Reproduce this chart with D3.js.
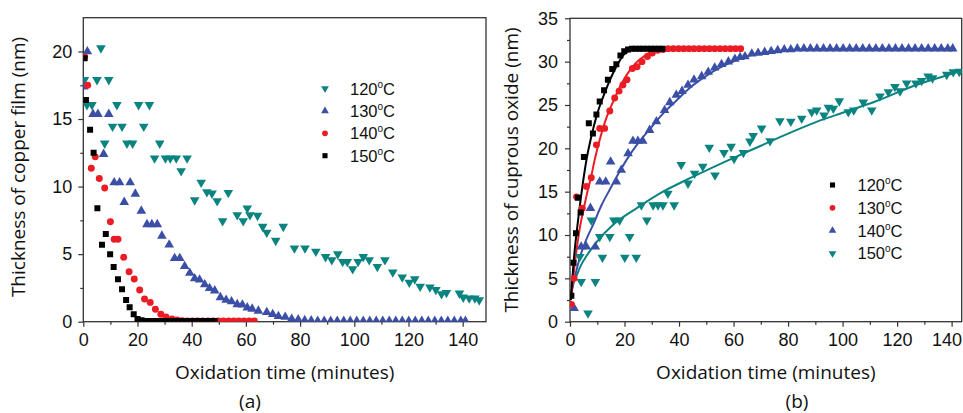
<!DOCTYPE html>
<html><head><meta charset="utf-8">
<script src="https://cdn.jsdelivr.net/npm/d3@7/dist/d3.min.js"></script>
<style>body{margin:0;background:#fff}svg{display:block}</style>
</head><body><svg id="c" width="963" height="413"></svg>
<script>
// ---------- tick labels ----------
const xTicks = [0, 20, 40, 60, 80, 100, 120, 140];
const xMinor = [10, 30, 50, 70, 90, 110, 130];
const yTicksA = [0, 5, 10, 15, 20];
const yMinorA = [2.5, 7.5, 12.5, 17.5];
const yTicksB = [0, 5, 10, 15, 20, 25, 30, 35];
const yMinorB = [2.5, 7.5, 12.5, 17.5, 22.5, 27.5, 32.5];
const legendA = ["120", "130", "140", "150"];
const legendB = ["120", "130", "140", "150"];

// ---------- panel (a): thickness of copper film ----------
const copper120 = [[0.4,17.9],[1.35,16.05],[3.2,16.05],[5.05,17.9],[6.5,20.25],[7.9,13.2],[9.4,17.9],[10.8,14.45],[12.4,16.05],[14.3,14.45],[16.1,13.2],[18.2,13.2],[20.4,16.05],[22.3,14.45],[24.4,16.05],[26.3,12.1],[28.2,13.2],[30.3,12.1],[32.1,12.1],[34.3,12.1],[36.1,11.15],[38.3,12.1],[41.1,9.0],[43.5,10.3],[45.6,9.6],[47.5,9.5],[49.4,8.94],[51.4,7.46],[53.5,9.55],[56.8,7.9],[59,7.46],[60.5,8.4],[61.5,7.9],[64.3,7.85],[66.2,7.04],[67.7,6.6],[71,6.0],[73.8,7.04],[77.9,5.44],[81.8,5.44],[85.8,5.2],[89.4,4.8],[91.7,4.57],[93.9,5.0],[95.7,4.44],[97.4,4.44],[99.4,3.9],[101.4,4.44],[103.3,4.8],[105.5,4.57],[108.5,4.07],[111.3,4.57],[114.2,3.66],[117.7,3.29],[120.3,2.9],[122.3,3.15],[124.3,2.6],[127.9,2.55],[130.1,2.37],[132.2,2.05],[134,2.15],[138.8,2.1],[140.2,1.8],[142.4,1.74],[144.5,1.74],[146.1,1.6]];
const copper130 = [[0.1,17.4],[1.5,20.0],[3.6,15.36],[5.4,15.36],[7.5,12.4],[9.4,15.36],[11.4,10.3],[13.4,10.3],[15.1,8.85],[17.3,10.3],[19.2,9.46],[21.4,8.2],[23.5,7.2],[25.3,7.2],[27.3,7.2],[29,6.35],[31.7,5.7],[33.7,4.7],[35.6,4.7],[37.4,4.1],[39.3,3.6],[41.1,3.2],[42.9,3.1],[44.8,2.75],[46.6,2.47],[48.5,2.3],[50.6,1.8],[52.7,1.6],[54.7,1.5],[56.8,1.28],[58.7,1.25],[60.5,1.04],[62.3,0.95],[64.6,0.8],[67.7,0.7],[69.9,0.55],[72,0.4],[74.5,0.35],[76.9,0.2],[79.3,0.15],[81.7,0.1],[84.1,0.08],[86.5,0.05],[88.9,0.05],[91.3,0.05],[93.7,0.05],[96.1,0.05],[98.5,0.05],[100.9,0.05],[103.3,0.05],[105.7,0.05],[108.1,0.05],[110.5,0.05],[112.9,0.05],[115.3,0.05],[117.7,0.05],[120.1,0.05],[122.5,0.05],[124.9,0.05],[127.3,0.05],[129.7,0.05],[132.1,0.05],[134.5,0.05],[136.9,0.05],[139.3,0.05],[141,0.05]];
const copper140 = [[0.5,19.6],[1.6,17.5],[2.95,11.35],[4.4,12.2],[5.9,10.6],[7.9,9.9],[10,7.4],[11.4,6.1],[12.8,6.1],[14.9,4.77],[16.9,3.7],[18.8,3.16],[20.8,2.35],[22.6,1.68],[24.7,1.43],[26.6,0.92],[28.6,0.55],[30.5,0.35],[32.7,0.2],[34.6,0.12],[36.5,0.08],[38.4,0.06],[40.3,0.05],[42.2,0.05],[44.1,0.05],[46,0.05],[47.9,0.05],[49.8,0.05],[51.7,0.05],[53.6,0.05],[55.5,0.05],[57.4,0.05],[59.3,0.05],[61.2,0.05],[63.1,0.05]];
const copper150 = [[0.5,19.5],[1,16.4],[2.5,14.2],[3.8,12.5],[5.2,8.4],[6.9,5.7],[8.3,6.5],[9.9,5.0],[11.2,4.05],[12.8,3.15],[14.3,2.4],[15.8,1.6],[17.1,1.07],[18.6,0.55],[20,0.2],[21.5,0.1],[23,0.06],[24.5,0.05],[26,0.05],[27.5,0.05],[29,0.05],[30.5,0.05],[32,0.05],[33.5,0.05],[35,0.05],[36.5,0.05],[38,0.05],[39.5,0.05],[41,0.05],[42.5,0.05],[44,0.05],[45.5,0.05],[47,0.05],[48.5,0.05]];

// ---------- panel (b): thickness of cuprous oxide ----------
const oxide120 = [[0.5,3.0],[1.3,6.8],[2.2,10.2],[2.9,14.3],[3.9,12.6],[5.1,19.0],[6.9,22.9],[8.4,21.7],[9.7,23.9],[10.9,25.4],[12.5,26.7],[13.9,27.9],[15.5,29.15],[17,29.7],[18.5,30.7],[19.9,31.2],[21.3,31.4],[22.7,31.5],[24.1,31.5],[25.5,31.5],[26.9,31.5],[28.3,31.5],[29.7,31.5],[31.1,31.5],[32.5,31.5],[33.9,31.5]];
const oxide130 = [[0.5,2.0],[1.5,5.0],[2.4,14.4],[4.5,13.1],[6.0,15.6],[7.8,16.6],[9.7,20.4],[10.9,22.3],[12.7,22.3],[14.6,24.3],[16.4,25.8],[18,26.6],[19.4,27.3],[20.9,27.9],[22.9,29.2],[24.6,29.4],[26.4,30.0],[28.4,30.6],[30.2,31.0],[32.2,31.3],[34.1,31.4],[36,31.5],[37.9,31.5],[39.8,31.5],[41.7,31.5],[43.6,31.5],[45.5,31.5],[47.4,31.5],[49.3,31.5],[51.2,31.5],[53.1,31.5],[55,31.5],[56.9,31.5],[58.8,31.5],[60.7,31.5],[62.6,31.5]];
const oxide140 = [[1.5,1.55],[4.1,8.65],[6.0,8.65],[7.5,13.1],[9.3,8.65],[10.9,16.15],[13.1,16.15],[14.9,18.45],[17,16.15],[18.8,17.5],[21.3,19.4],[23.1,20.85],[24.9,20.85],[26.7,20.85],[29.2,22.1],[31.7,23.1],[34.7,24.4],[36.6,25.3],[39,26.15],[41.1,26.6],[43.3,27.3],[45.5,27.9],[48.3,28.3],[50.7,28.8],[53.1,29.3],[55.6,29.7],[58.1,30.0],[60.5,30.3],[62.4,30.5],[64.2,30.6],[66.7,30.9],[69,31.0],[71.4,31.1],[73.8,31.2],[76.2,31.3],[78.6,31.4],[81,31.4],[83.4,31.5],[85.8,31.5],[88.2,31.5],[90.6,31.5],[93,31.5],[95.4,31.5],[97.8,31.5],[100.2,31.5],[102.6,31.5],[105,31.5],[107.4,31.5],[109.8,31.5],[112.2,31.5],[114.6,31.5],[117,31.5],[119.4,31.5],[121.8,31.5],[124.2,31.5],[126.6,31.5],[129,31.5],[131.4,31.5],[133.8,31.5],[136.2,31.5],[138.6,31.5],[140.4,31.5]];
const oxide150 = [[3.6,7.5],[4.1,4.6],[6.6,0.97],[7.8,11.7],[9.3,4.6],[10.9,9.8],[11.9,7.4],[14.6,9.8],[16.1,11.7],[18.2,11.7],[20.1,7.4],[21.9,9.8],[24.3,7.4],[26.2,13.45],[28.2,11.7],[30.5,13.45],[32.3,13.45],[34.1,13.45],[35.9,14.8],[38.2,13.45],[40.8,18.1],[43.3,15.96],[45.7,17.1],[48.7,17.9],[51.1,20.1],[53.2,16.9],[56.5,19.5],[59.1,20.2],[60.2,18.8],[63.6,19.5],[66,20.8],[67.2,21.45],[70.3,22.3],[73.4,20.85],[77,23.15],[81,23.1],[85,23.45],[88.7,24.2],[90.5,24.4],[93.2,23.8],[94.8,24.7],[96.6,24.6],[98.8,25.45],[102.1,24.2],[104.1,24.4],[107.6,25.3],[110.7,24.4],[113.7,26.0],[116.8,26.5],[119.2,27.1],[121.1,26.6],[123.5,27.5],[126.9,27.5],[129,27.8],[131.4,28.3],[133,28.1],[138.2,28.5],[140.6,28.8],[142.8,28.85]];

// fitted curves
const fit120 = [[0.3,2.5],[1.5,7.5],[3,11.8],[4.5,15.5],[6,18.6],[8,21.6],[10,24.0],[12,25.8],[14,27.4],[16,28.8],[18,30.0],[20,30.9],[23,31.4],[27,31.5],[34,31.5]];
const fit130 = [[0.3,2.5],[1.2,5.1],[2.5,8.5],[3.7,11],[5,13],[6.1,14.6],[7.8,16.8],[9,18.6],[10.9,21.0],[13,23.2],[16.4,25.8],[19,27.5],[21.3,28.7],[24,29.8],[26.2,30.4],[29,31.0],[31.1,31.3],[35,31.5],[45,31.5],[63,31.5]];
const fit140 = [[0,2.5],[1.8,5.2],[3.7,7.5],[6,9.5],[8.5,11.2],[11.5,13.4],[14.7,15.3],[18,17.2],[20.8,18.7],[25,20.6],[29.2,22.2],[34.7,24.2],[40,25.8],[43.3,26.8],[50.7,28.5],[55,29.3],[60.5,30.1],[66,30.7],[72.7,31.1],[84.4,31.4],[100,31.5],[140,31.5]];
const fit150 = [[0,2.5],[1,4.2],[2.4,5.3],[4,6.5],[6.1,7.6],[9.8,9.2],[15.9,11.2],[24.5,13.1],[33,14.8],[45,16.7],[60,18.9],[70,20.3],[80,21.7],[90,23.0],[100,24.1],[112,25.4],[127,27.3],[136,28.2],[144,29.0]];

const C_TEAL = "#0b8480", C_BLUE = "#3c4fa6", C_RED = "#ec1c24", C_BLACK = "#000000";
const svg = d3.select("#c");
const NUM_FONT = "'Liberation Sans', Arial, sans-serif";
const TITLE_FONT = "'Open Sans', 'DejaVu Sans', sans-serif";

function sym(kind, size) {
  const t = {square: d3.symbolSquare, circle: d3.symbolCircle, up: d3.symbolTriangle, down: d3.symbolTriangle}[kind];
  return d3.symbol().type(t).size(size)();
}

function panel(o) {
  const x = d3.scaleLinear().domain([0, o.xmax]).range([o.x0, o.x1]);
  const y = d3.scaleLinear().domain([0, o.ymax]).range([o.y0, o.y1]);
  const g = svg.append("g");
  const id = "clip" + o.name;
  svg.append("clipPath").attr("id", id).append("rect")
    .attr("x", o.x0).attr("y", o.y1).attr("width", o.x1 - o.x0).attr("height", o.y0 - o.y1);

  // axes
  const ax = g.append("g").attr("transform", `translate(0,${o.y0})`)
    .call(d3.axisBottom(x).tickValues(xTicks).tickSize(5).tickSizeOuter(0).tickPadding(7));
  const axm = g.append("g").attr("transform", `translate(0,${o.y0})`)
    .call(d3.axisBottom(x).tickValues(xMinor).tickSize(3).tickSizeOuter(0).tickFormat(""));
  const ay = g.append("g").attr("transform", `translate(${o.x0},0)`)
    .call(d3.axisLeft(y).tickValues(o.yTicks).tickSize(5).tickSizeOuter(0).tickPadding(o.ypad));
  const aym = g.append("g").attr("transform", `translate(${o.x0},0)`)
    .call(d3.axisLeft(y).tickValues(o.yMinor).tickSize(3).tickSizeOuter(0).tickFormat(""));
  [ax, axm, ay, aym].forEach(a => {
    a.select(".domain").remove();
    a.selectAll("line").attr("stroke", "#333").attr("stroke-width", 1.2);
    a.selectAll("text").attr("font-family", NUM_FONT).attr("font-size", 18).attr("fill", "#111");
  });
  if (o.lastLabelEnd) {
    // keep the last x label inside the page edge
    ax.selectAll(".tick").filter(d => d === xTicks[xTicks.length - 1]).select("text")
      .attr("text-anchor", "end").attr("x", o.lastLabelEnd);
  }

  g.append("rect").attr("x", o.x0).attr("y", o.y1).attr("width", o.x1 - o.x0).attr("height", o.y0 - o.y1)
    .attr("fill", "none").attr("stroke", "#333").attr("stroke-width", 1.3);

  // fit lines
  const plot = g.append("g").attr("clip-path", `url(#${id})`);
  const line = d3.line().x(d => x(d[0])).y(d => y(d[1])).curve(d3.curveMonotoneX);
  (o.fits || []).forEach(f => {
    plot.append("path").datum(f.data).attr("d", line).attr("fill", "none")
      .attr("stroke", f.color).attr("stroke-width", 2);
  });
  // markers
  o.series.forEach(s => {
    plot.append("g").selectAll("path").data(s.data).join("path")
      .attr("d", sym(s.kind, s.size))
      .attr("transform", d => `translate(${x(d[0])},${y(d[1])})` + (s.kind === "down" ? " rotate(180)" : ""))
      .attr("fill", s.color);
  });

  // titles
  g.append("text").attr("x", (o.x0 + o.x1) / 2 + o.xtOff).attr("y", 379)
    .attr("text-anchor", "middle").attr("font-family", TITLE_FONT).attr("font-size", 19).attr("fill", "#111")
    .text("Oxidation time (minutes)");
  g.append("text").attr("transform", `translate(${o.ytX},${o.ytY}) rotate(-90)`)
    .attr("text-anchor", "middle").attr("font-family", TITLE_FONT).attr("font-size", 19).attr("fill", "#111")
    .text(o.yTitle);
  g.append("text").attr("x", o.tagX).attr("y", 408).attr("text-anchor", "middle")
    .attr("font-family", TITLE_FONT).attr("font-size", 19).attr("fill", "#111").text(o.tag);

  // legend
  const lg = g.append("g");
  o.legend.forEach((L, i) => {
    const cy = o.legY + i * o.legStep;
    lg.append("path").attr("d", sym(L.kind, 26))
      .attr("transform", `translate(${o.legX},${cy})` + (L.kind === "down" ? " rotate(180)" : ""))
      .attr("fill", L.color);
    const t = lg.append("text").attr("x", o.legX + 25).attr("y", cy + 6)
      .attr("font-family", NUM_FONT).attr("font-size", 16.5).attr("fill", "#111");
    t.append("tspan").text(L.label);
    t.append("tspan").attr("font-size", 10).attr("dy", -7).text("o");
    t.append("tspan").attr("dy", 7).text("C");
  });
}

panel({
  name: "a", x0: 83.3, x1: 486, y0: 321.7, y1: 17.7, xmax: 148.6, ymax: 22.5,
  yTicks: yTicksA, yMinor: yMinorA, ypad: 6,
  series: [
    {data: copper120, kind: "down", color: C_TEAL, size: 40},
    {data: copper130, kind: "up", color: C_BLUE, size: 40},
    {data: copper140, kind: "circle", color: C_RED, size: 38},
    {data: copper150, kind: "square", color: C_BLACK, size: 36}
  ],
  legend: [
    {label: legendA[0], kind: "down", color: C_TEAL},
    {label: legendA[1], kind: "up", color: C_BLUE},
    {label: legendA[2], kind: "circle", color: C_RED},
    {label: legendA[3], kind: "square", color: C_BLACK}
  ],
  legX: 325, legY: 88.5, legStep: 22.4,
  xtOff: 0, ytX: 25, ytY: 167, yTitle: "Thickness of copper film (nm)", tag: "(a)", tagX: 250
});

panel({
  name: "b", x0: 570, x1: 961.7, y0: 321.7, y1: 18.3, xmax: 143.7, ymax: 35,
  yTicks: yTicksB, yMinor: yMinorB, ypad: 7,
  lastLabelEnd: 10,
  fits: [
    {data: fit150, color: C_TEAL}, {data: fit140, color: C_BLUE},
    {data: fit130, color: C_RED}, {data: fit120, color: C_BLACK}
  ],
  series: [
    {data: oxide150, kind: "down", color: C_TEAL, size: 40},
    {data: oxide140, kind: "up", color: C_BLUE, size: 40},
    {data: oxide130, kind: "circle", color: C_RED, size: 38},
    {data: oxide120, kind: "square", color: C_BLACK, size: 36}
  ],
  legend: [
    {label: legendB[0], kind: "square", color: C_BLACK},
    {label: legendB[1], kind: "circle", color: C_RED},
    {label: legendB[2], kind: "up", color: C_BLUE},
    {label: legendB[3], kind: "down", color: C_TEAL}
  ],
  legX: 832.5, legY: 185, legStep: 22.8,
  xtOff: 0, ytX: 518, ytY: 170, yTitle: "Thickness of cuprous oxide (nm)", tag: "(b)", tagX: 797
});
</script></body></html>
